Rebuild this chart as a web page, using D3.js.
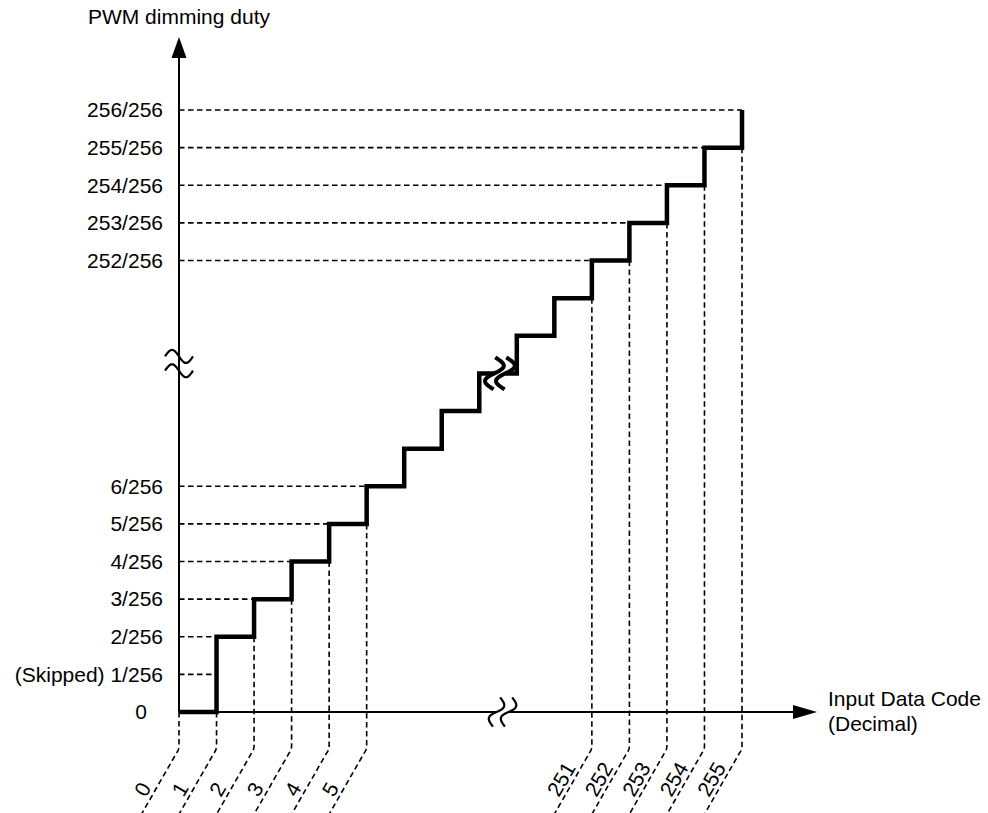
<!DOCTYPE html>
<html>
<head>
<meta charset="utf-8">
<script src="https://cdn.jsdelivr.net/npm/d3@7"></script>
<style>
    body { margin: 0; background: #fff; }
    svg { display: block; font-family: "Liberation Sans", Arial, sans-serif; }
</style>
</head>
<body>
<div id="space"></div>
<script>
// Slots along the broken x axis, and the duty level reached at each slot
var stepSlots = [0, 1, 2, 3, 4, 5, 6, 7, 8, 9, 10, 11, 12, 13, 14, 15];
var stepLevels = [0, 2, 3, 4, 5, 6, 7, 8, 9, 10, 11, 12, 13, 14, 15, 16];

// Tick labels
var xTickSlots = [0, 1, 2, 3, 4, 5, 11, 12, 13, 14, 15];
var xTickLabels = ["0", "1", "2", "3", "4", "5", "251", "252", "253", "254", "255"];
var yTickSlots = [0, 1, 2, 3, 4, 5, 6, 12, 13, 14, 15, 16];
var yTickLabels = ["0", "(Skipped) 1/256", "2/256", "3/256", "4/256", "5/256", "6/256",
                   "252/256", "253/256", "254/256", "255/256", "256/256"];

var svg, x, y;
var W = 988, H = 813;
var FONT = 21;

init();

function init()
{
    //Init svg
    svg = d3.select("#space").append("svg")
                .attr("width", W)
                .attr("height", H);

    x = d3.scaleLinear().domain([0, 15]).range([179, 742]);
    y = d3.scaleLinear().domain([0, 16]).range([712, 110]);

    svg.append("g").attr("id", "guide");
    svg.append("g").attr("id", "axis");
    svg.append("g").attr("id", "stair");
    svg.append("g").attr("id", "text");

    drawGuides();
    drawAxes();
    drawStair();
    drawLabels();
}

/************************************************
				Helpers
*************************************************/
// one period of a sine along a (tilted) axis, used for break marks
function wavePath(cx, cy, len, amp, angleDeg) {
    var a = angleDeg * Math.PI / 180;
    var ux = Math.cos(a), uy = Math.sin(a);
    var nx = -Math.sin(a), ny = Math.cos(a);
    var pts = [];
    for (var k = 0; k <= 40; k++) {
        var t = k / 40;
        var s = (t - 0.5) * len, o = amp * Math.sin(2 * Math.PI * t);
        pts.push([cx + s * ux + o * nx, cy + s * uy + o * ny]);
    }
    return d3.line()(pts);
}

function firstSlotAtLevel(level) {
    for (var i = 0; i < stepLevels.length; i++) {
        if (stepLevels[i] >= level) return stepSlots[i];
    }
    return stepSlots[stepSlots.length - 1];
}

/************************************************
				Dashed guide lines
*************************************************/
function drawGuides() {
    var g = svg.select("#guide");

    //Horizontal guides from y axis to the step
    yTickSlots.forEach(function (s) {
        if (s == 0) return;
        g.append("line")
            .attr("x1", x(0))
            .attr("x2", x(firstSlotAtLevel(s)))
            .attr("y1", y(s))
            .attr("y2", y(s))
            .attr("stroke", "#000")
            .attr("stroke-width", 1.6)
            .attr("stroke-dasharray", "5.5,3.5");
    });

    //Vertical guides down to the code labels, then slanted
    xTickSlots.forEach(function (s) {
        var top = s == 0 ? stepLevels[0] : stepLevels[s - 1];
        var px = x(s);
        g.append("path")
            .attr("d", "M" + px + "," + y(top) + "L" + px + ",746Q" + px + ",750 " + (px - 2.5) + ",753L" + (px - 38) + ",815")
            .attr("fill", "none")
            .attr("stroke", "#000")
            .attr("stroke-width", 1.6)
            .attr("stroke-dasharray", "5.5,3.5");
    });
}

/************************************************
				Axes
*************************************************/
function drawAxes() {
    var g = svg.select("#axis");
    var y0 = y(0), x0 = x(0);
    var xb = x(8.62);

    //Y axis
    g.append("line")
        .attr("x1", x0).attr("x2", x0)
        .attr("y1", y0).attr("y2", 56)
        .attr("stroke", "#000").attr("stroke-width", 2);
    g.append("path")
        .attr("d", "M" + x0 + ",37L" + (x0 + 7.5) + ",58L" + (x0 - 7.5) + ",58Z")
        .attr("fill", "#000");

    //X axis (broken)
    g.append("line")
        .attr("x1", x0).attr("x2", xb - 6)
        .attr("y1", y0).attr("y2", y0)
        .attr("stroke", "#000").attr("stroke-width", 2);
    g.append("line")
        .attr("x1", xb + 6).attr("x2", 796)
        .attr("y1", y0).attr("y2", y0)
        .attr("stroke", "#000").attr("stroke-width", 2);
    g.append("path")
        .attr("d", "M817," + y0 + "L793," + (y0 - 7) + "L793," + (y0 + 7) + "Z")
        .attr("fill", "#000");

    //Break marks
    [xb - 6, xb + 6].forEach(function (cx) {
        g.append("path")
            .attr("d", wavePath(cx, y0, 30, -6, 104))
            .attr("fill", "none").attr("stroke", "#000").attr("stroke-width", 2.2);
    });
    [y(9.45), y(9.07)].forEach(function (cy) {
        g.append("path")
            .attr("d", wavePath(x0, cy, 28, -6.5, 0))
            .attr("fill", "none").attr("stroke", "#000").attr("stroke-width", 2.2);
    });
}

/************************************************
				Staircase
*************************************************/
function drawStair() {
    var g = svg.select("#stair");
    var pts = [[x(stepSlots[0]), y(stepLevels[0])]];
    for (var i = 1; i < stepSlots.length; i++) {
        pts.push([x(stepSlots[i]), y(stepLevels[i - 1])]);
        pts.push([x(stepSlots[i]), y(stepLevels[i])]);
    }

    g.append("path")
        .attr("d", d3.line()(pts))
        .attr("fill", "none")
        .attr("stroke", "#000")
        .attr("stroke-width", 4.5)
        .attr("stroke-linejoin", "miter");

    //Break on the step between slot 8 and 9
    var bx = x(8.55), by = y(9);
    g.append("line")
        .attr("x1", bx - 6).attr("x2", bx + 6)
        .attr("y1", by).attr("y2", by)
        .attr("stroke", "#fff").attr("stroke-width", 7);
    [bx - 5.5, bx + 5.5].forEach(function (cx) {
        g.append("path")
            .attr("d", wavePath(cx, by, 32, -9, 93))
            .attr("fill", "none").attr("stroke", "#000").attr("stroke-width", 4);
    });
}

/************************************************
				Text
*************************************************/
function drawLabels() {
    var g = svg.select("#text");

    g.append("text")
        .attr("x", x(0))
        .attr("y", 24)
        .attr("text-anchor", "middle")
        .attr("font-size", FONT)
        .text("PWM dimming duty");

    g.append("text")
        .attr("x", 828)
        .attr("y", 706)
        .attr("font-size", FONT)
        .text("Input Data Code");
    g.append("text")
        .attr("x", 828)
        .attr("y", 731)
        .attr("font-size", FONT)
        .text("(Decimal)");

    //Y tick labels
    yTickSlots.forEach(function (s, i) {
        g.append("text")
            .attr("x", yTickLabels[i] == "0" ? 147 : 163)
            .attr("y", y(s))
            .attr("dy", "0.35em")
            .attr("text-anchor", "end")
            .attr("font-size", FONT)
            .text(yTickLabels[i]);
    });

    //X tick labels, slanted
    xTickSlots.forEach(function (s, i) {
        var px = x(s) - 33, py = 798;
        g.append("text")
            .attr("transform", "translate(" + px + "," + py + ") rotate(-60)")
            .attr("font-size", FONT)
            .text(xTickLabels[i]);
    });
}
</script>
</body>
</html>
